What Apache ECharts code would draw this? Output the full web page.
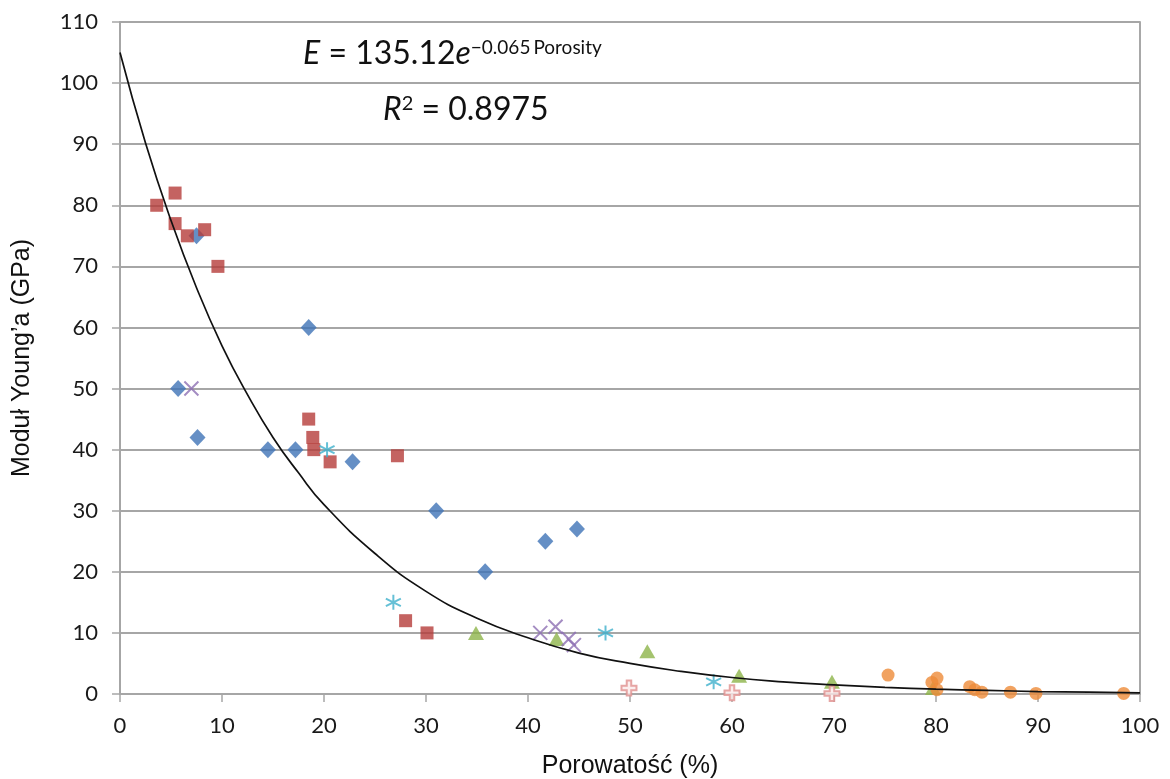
<!DOCTYPE html>
<html>
<head>
<meta charset="utf-8">
<script src="https://cdn.jsdelivr.net/npm/echarts@6/dist/echarts.min.js"></script>
<style>
  html, body { margin: 0; padding: 0; background: #fff; }
  #chart { width: 1170px; height: 779px; }
</style>
</head>
<body>
<div id="chart"></div>
<script>
// Porosity (%) vs Young's modulus (GPa), grouped by material family
const seriesBlue = [[7.5, 75], [5.7, 50], [7.6, 42], [14.5, 40], [17.2, 40], [18.5, 60], [22.8, 38], [31, 30], [35.8, 20], [41.7, 25], [44.8, 27]];
const seriesRed = [[3.6, 80], [5.4, 82], [5.4, 77], [6.6, 75], [8.3, 76], [9.6, 70], [18.5, 45], [18.9, 42], [19.0, 40], [20.6, 38], [27.2, 39], [28.0, 12], [30.1, 10]];
const seriesGreen = [[34.9, 10], [42.8, 9], [51.7, 7], [60.7, 3], [69.8, 2], [79.7, 1]];
const seriesPurple = [[7.0, 50], [41.2, 10], [42.7, 11], [44.0, 9], [44.5, 8]];
const seriesCyan = [[20.3, 40], [26.8, 15], [47.6, 10], [58.2, 2]];
const seriesOrange = [[75.3, 3.1], [80.1, 2.6], [79.6, 1.9], [80.1, 0.7], [83.3, 1.2], [83.8, 0.7], [84.5, 0.3], [87.3, 0.3], [89.8, 0.1], [98.4, 0.1]];
const seriesPink = [[49.9, 1.0], [60.0, 0.2], [69.8, 0.1]];

// Exponential trend line, sampled along the axis
const trendX = [0, 2.5, 5, 7.5, 10, 12.5, 15, 17.5, 20, 25, 30, 35, 40, 45, 50, 55, 60, 65, 70, 75, 80, 85, 90, 95, 100];
const trendY = [105, 90.2, 77.5, 66.5, 57, 49, 42, 36.2, 31, 23, 16.8, 12.4, 9.2, 6.7, 5.0, 3.7, 2.7, 2.0, 1.5, 1.1, 0.8, 0.6, 0.4, 0.3, 0.2];

const xTicks = { min: 0, max: 100, step: 10 };
const yTicks = { min: 0, max: 110, step: 10 };

const trendData = trendX.map((x, i) => [x, trendY[i]]);

const gridColor = '#A6A6A6';
const labelFont = 'Lato, "Open Sans", sans-serif';

const symX = 'path://M0,0 L10,10 M10,0 L0,10';
const symStar = 'path://M5,0 L5,10 M0,2.5 L10,7.5 M10,2.5 L0,7.5';
const symPlus = 'path://M3.5,0 L6.5,0 L6.5,3.5 L10,3.5 L10,6.5 L6.5,6.5 L6.5,10 L3.5,10 L3.5,6.5 L0,6.5 L0,3.5 L3.5,3.5 Z';

const chart = echarts.init(document.getElementById('chart'), null, { renderer: 'canvas' });

chart.setOption({
  animation: false,
  backgroundColor: '#fff',
  grid: {
    left: 120, right: 30, top: 22, bottom: 85,
    outerBoundsMode: 'none',
    show: true, borderColor: '#8C8C8C', borderWidth: 1.5, backgroundColor: 'transparent'
  },
  xAxis: {
    type: 'value',
    min: xTicks.min, max: xTicks.max, interval: xTicks.step,
    name: 'Porowatość (%)',
    nameLocation: 'middle',
    nameGap: 60,
    nameTextStyle: { fontFamily: '"Liberation Sans", Arial, sans-serif', fontSize: 25, color: '#111' },
    axisLine: { show: true, onZero: false, lineStyle: { color: gridColor, width: 2 } },
    axisTick: { show: true, length: 8, lineStyle: { color: gridColor, width: 1.5 } },
    axisLabel: { fontFamily: labelFont, fontSize: 22, color: '#1a1a1a', margin: 21 },
    splitLine: { show: false }
  },
  yAxis: {
    type: 'value',
    min: yTicks.min, max: yTicks.max, interval: yTicks.step,
    name: 'Moduł Young\u2019a (GPa)',
    nameLocation: 'middle',
    nameGap: 85,
    nameTextStyle: { fontFamily: '"Liberation Sans", Arial, sans-serif', fontSize: 25, color: '#111' },
    axisLine: { show: true, lineStyle: { color: gridColor, width: 2 } },
    axisTick: { show: true, length: 8, lineStyle: { color: gridColor, width: 1.5 } },
    axisLabel: { fontFamily: labelFont, fontSize: 22, color: '#1a1a1a', margin: 22 },
    splitLine: { show: true, lineStyle: { color: gridColor, width: 2 } }
  },
  graphic: [
    {
      type: 'text',
      left: 303, top: 38,
      style: {
        text: '{i|E} = 135.12{i|e}{s|\u22120.065}{p|Porosity}',
        rich: {
          i: { fontFamily: labelFont, fontSize: 32, fontStyle: 'italic', fill: '#111', verticalAlign: 'bottom' },
          s: { fontFamily: labelFont, fontSize: 19, fill: '#111', verticalAlign: 'top', padding: [0, 3, 0, 0] },
          p: { fontFamily: labelFont, fontSize: 19, fill: '#111', verticalAlign: 'top' }
        },
        fontFamily: labelFont, fontSize: 32, fill: '#111'
      }
    },
    {
      type: 'text',
      left: 383, top: 94,
      style: {
        text: '{i|R}{s|2} = 0.8975',
        rich: {
          i: { fontFamily: labelFont, fontSize: 32, fontStyle: 'italic', fill: '#111', verticalAlign: 'bottom' },
          s: { fontFamily: labelFont, fontSize: 20, fill: '#111', verticalAlign: 'top' }
        },
        fontFamily: labelFont, fontSize: 32, fill: '#111'
      }
    }
  ],
  series: [
    {
      name: 'trend', type: 'line', data: trendData, smooth: true, showSymbol: false,
      lineStyle: { color: '#111', width: 1.7 }, z: 5, silent: true
    },
    {
      name: 'A', type: 'scatter', data: seriesBlue, symbol: 'diamond', symbolSize: [16, 17],
      itemStyle: { color: '#3F73B6' }, z: 3
    },
    {
      name: 'B', type: 'scatter', data: seriesRed, symbol: 'rect', symbolSize: 13,
      itemStyle: { color: '#B53C3A' }, z: 3
    },
    {
      name: 'C', type: 'scatter', data: seriesGreen, symbol: 'triangle', symbolSize: [16, 14],
      itemStyle: { color: '#8DB44A' }, z: 3
    },
    {
      name: 'D', type: 'scatter', data: seriesPurple, symbol: symX, symbolSize: 14,
      itemStyle: { color: 'transparent', borderColor: '#8D6FB3', borderWidth: 2 }, z: 3
    },
    {
      name: 'E', type: 'scatter', data: seriesCyan, symbol: symStar, symbolSize: 15,
      itemStyle: { color: 'transparent', borderColor: '#3FB0CC', borderWidth: 2 }, z: 3
    },
    {
      name: 'F', type: 'scatter', data: seriesOrange, symbol: 'circle', symbolSize: 13,
      itemStyle: { color: '#EE8B38' }, z: 3
    },
    {
      name: 'G', type: 'scatter', data: seriesPink, symbol: symPlus, symbolSize: 15,
      itemStyle: { color: '#FBEAEA', borderColor: '#E0908E', borderWidth: 2 }, z: 3
    }
  ]
});
</script>
</body>
</html>
